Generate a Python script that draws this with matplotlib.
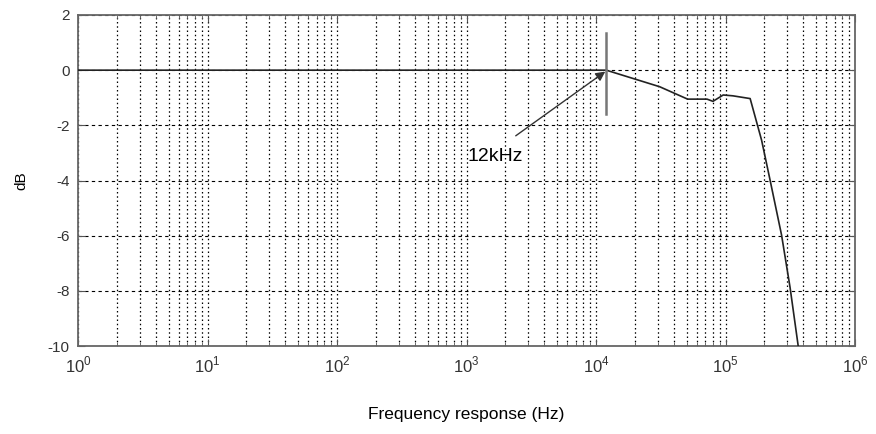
import matplotlib
matplotlib.use("Agg")
import matplotlib.pyplot as plt
from matplotlib import font_manager
import numpy as np

# Data
freq_hz = [1, 12000, 31000, 51000, 72000, 80000, 96000, 114000, 155000, 190000, 221000, 271000, 315000, 365000]
gain_db = [0, 0, -0.6, -1.05, -1.05, -1.13, -0.9, -0.93, -1.03, -2.54, -3.99, -5.98, -7.87, -10.03]
marker_freq = 12000
marker_span = [1.35, -1.6]
annot_text = "12kHz"
annot_tip = (11800, -0.05)
annot_tail = (2400, -2.38)
annot_text_xy = (1660, -3.12)
y_ticks = [2, 0, -2, -4, -6, -8, -10]

names = {f.name for f in font_manager.fontManager.ttflist}
fam = "Liberation Sans"
for cand in ["Liberation Sans Narrow", "DejaVu Sans Condensed"]:
    if cand in names:
        fam = cand
        break
plt.rcParams['font.family'] = [fam, 'DejaVu Sans']
plt.rcParams['mathtext.fontset'] = 'custom'
plt.rcParams['mathtext.rm'] = fam

fig = plt.figure(figsize=(8.76, 4.34), dpi=100)
ax = fig.add_axes([78/876, 1-346/434, (855-78)/876, (346-15)/434])
ax.set_xscale('log')
ax.set_xlim(1, 1e6)
ax.set_ylim(-10, 2)

ax.plot(freq_hz, gain_db, color='#222222', lw=1.2, zorder=3)
ax.plot([marker_freq, marker_freq], marker_span, color='#777777', lw=1.8, zorder=3)

ax.annotate('', xy=annot_tip, xytext=annot_tail,
            arrowprops=dict(arrowstyle='-|>', color='#333333', lw=1.0,
                            mutation_scale=14, shrinkA=0, shrinkB=0))
ax.text(annot_text_xy[0], annot_text_xy[1], annot_text, ha='center', va='center',
        fontsize=14, color='black', zorder=4)

ax.set_yticks(y_ticks)
ax.set_yticklabels([str(v) for v in y_ticks])
ax.set_xticks([10.0**k for k in range(7)])
ax.set_xticklabels([r'$10^{%d}$' % k for k in range(7)])

ax.grid(True, which='major', axis='y', color='black', linestyle=(0, (3, 3)), lw=0.8)
ax.grid(True, which='both', axis='x', color='black', linestyle=(0, (1.2, 2.2)), lw=0.9)

ax.tick_params(which='both', direction='in', top=True, right=True, color='#555555',
               labelcolor='#333333')
ax.tick_params(which='major', length=5)
ax.tick_params(which='minor', length=3)
ax.tick_params(axis='x', pad=6, labelsize=12)
ax.tick_params(axis='y', pad=6, labelsize=11)
for s in ax.spines.values():
    s.set_color('#666666')
    s.set_linewidth(1.3)

ax.set_ylabel('dB', fontsize=11)
ax.set_xlabel('Frequency response (Hz)', fontsize=12.5)
ax.xaxis.label.set_va('center')
ax.xaxis.set_label_coords(0.5, (346 - 414) / (346 - 15))
ax.yaxis.label.set_va('center')
ax.yaxis.set_label_coords(-(78 - 21) / (855 - 78), 0.5)

fig.savefig('out.png', dpi=100)
